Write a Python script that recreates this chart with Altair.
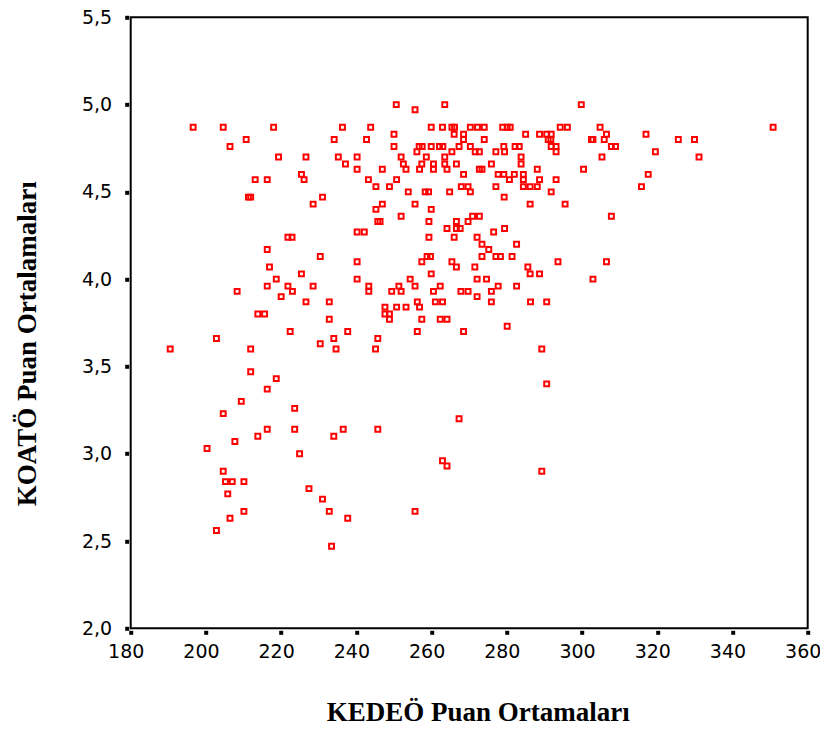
import altair as alt
import pandas as pd

# KOATÖ level (y) for each row of points, and the KEDEÖ values (x) of the points in that row
koato_rows = [5.00, 4.97, 4.87, 4.83, 4.80, 4.76, 4.73, 4.70, 4.66, 4.63, 4.60, 4.57,
              4.53, 4.50, 4.47, 4.43, 4.40, 4.36, 4.33, 4.29, 4.27, 4.24, 4.20, 4.17,
              4.13, 4.10, 4.07, 4.03, 4.00, 3.96, 3.93, 3.90, 3.87, 3.84, 3.80, 3.77,
              3.73, 3.70, 3.66, 3.63, 3.60, 3.47, 3.43, 3.40, 3.37, 3.30, 3.26, 3.23,
              3.20, 3.14, 3.10, 3.07, 3.03, 3.00, 2.96, 2.93, 2.90, 2.84, 2.80, 2.77,
              2.74, 2.67, 2.63, 2.56, 2.47]

kedeo_rows = [
    [250.6, 263.5, 299.8],
    [255.6],
    [196.6, 204.6, 218.0, 236.3, 243.8, 259.9, 262.9, 265.4, 266.1, 270.3, 272.2, 274.0,
     278.9, 280.1, 280.9, 294.2, 296.1, 304.8, 350.8],
    [250.0, 266.0, 268.5, 285.0, 288.7, 290.6, 291.8, 306.5, 317.0],
    [210.7, 234.1, 242.7, 268.5, 274.0, 291.0, 291.7, 302.5, 302.9, 305.9, 325.6, 329.9],
    [206.4, 250.0, 256.7, 257.5, 259.9, 262.1, 263.0, 267.3, 270.3, 279.2, 282.2, 283.3,
     291.8, 293.1, 307.8, 308.9],
    [256.1, 265.4, 271.6, 272.7, 277.1, 279.4, 293.1, 319.5],
    [219.3, 226.6, 235.2, 240.2, 251.9, 258.6, 263.5, 283.8, 305.3, 331.1],
    [237.1, 252.5, 257.4, 260.5, 263.5, 266.6, 275.9, 283.8],
    [240.2, 246.9, 253.2, 256.8, 260.5, 264.1, 272.7, 273.4, 288.1, 300.4],
    [225.4, 268.5, 277.7, 279.2, 282.0, 284.4, 317.6],
    [213.1, 216.3, 226.1, 243.2, 250.7, 280.7, 284.4, 288.7, 293.1],
    [245.2, 248.8, 267.9, 269.7, 277.1, 284.4, 286.2, 288.1, 315.8],
    [253.8, 258.3, 259.2, 264.8, 270.3, 291.8],
    [211.3, 211.9, 231.0, 279.3],
    [228.5, 246.9, 255.6, 286.2, 295.5],
    [245.2, 259.9],
    [251.9, 270.9, 272.7, 307.8],
    [245.7, 246.3, 259.3, 266.6, 269.7],
    [264.1, 266.6, 267.6, 279.4],
    [240.2, 242.1, 276.5],
    [221.8, 222.9, 259.3, 266.0, 272.1],
    [273.4, 282.6],
    [216.3, 275.2],
    [230.4, 258.8, 259.7, 273.4, 277.1, 278.3, 281.4],
    [240.2, 257.4, 265.4, 293.6, 306.5],
    [216.9, 266.6, 271.5, 285.6],
    [225.4, 259.9, 286.2, 288.7],
    [218.7, 240.2, 254.3, 272.1, 274.6, 302.9],
    [216.3, 221.8, 228.5, 243.3, 251.3, 255.6, 262.3, 277.7, 282.6],
    [208.3, 223.0, 243.3, 249.4, 251.9, 260.5, 267.8, 269.7, 275.9],
    [220.0, 272.1],
    [226.6, 232.8, 256.2, 261.0, 262.9, 275.9, 286.3, 290.6],
    [247.6, 250.7, 253.2, 256.8],
    [213.8, 215.6, 247.6, 248.8],
    [232.8, 248.8, 257.4, 262.3, 264.1],
    [280.1],
    [222.4, 237.7, 256.2, 268.5],
    [202.8, 234.0, 245.7],
    [230.4],
    [190.5, 211.9, 234.6, 245.1, 289.3],
    [211.9],
    [218.7],
    [290.6],
    [216.3],
    [209.4],
    [223.6],
    [204.6],
    [267.3],
    [216.3, 223.6, 236.5, 245.7],
    [213.8, 234.0],
    [207.7],
    [200.3],
    [224.9],
    [262.9],
    [264.1],
    [204.6, 289.3],
    [205.2, 207.0, 210.1],
    [227.4],
    [205.8],
    [231.0],
    [210.1, 232.8, 255.6],
    [206.4, 237.7],
    [202.8],
    [233.4],
]

x_ticks = [180, 200, 220, 240, 260, 280, 300, 320, 340, 360]
y_ticks = [2.0, 2.5, 3.0, 3.5, 4.0, 4.5, 5.0, 5.5]

records = []
for yv, xs in zip(koato_rows, kedeo_rows):
    for xv in xs:
        records.append({"KEDEO": xv, "KOATO": yv})
df = pd.DataFrame(records)

label_font = "DejaVu Sans"
title_font = "Liberation Serif"

chart = alt.Chart(df).mark_square(
    filled=False, size=24, strokeWidth=2, color="#ff0000", opacity=1
).encode(
    x=alt.X(
        "KEDEO:Q",
        scale=alt.Scale(domain=[180, 360], nice=False, zero=False),
        axis=alt.Axis(
            values=x_ticks,
            format="d",
            domain=False,
            grid=False,
            offset=2,
            tickSize=4,
            tickWidth=4,
            tickColor="black",
            labelFont=label_font,
            labelFontSize=19,
            labelColor="black",
            labelPadding=8,
            labelOffset=-5,
            labelFlush=False,
            labelOverlap=False,
            title="KEDEÖ Puan Ortamaları",
            titleFont=title_font,
            titleFontSize=27,
            titleFontWeight="bold",
            titleColor="black",
            titleX=347,
            titleY=82,
            titleAlign="center",
            titleBaseline="middle",
        ),
    ),
    y=alt.Y(
        "KOATO:Q",
        scale=alt.Scale(domain=[2.0, 5.5], nice=False, zero=False),
        axis=alt.Axis(
            values=y_ticks,
            labelExpr="replace(format(datum.value, '.1f'), '.', ',')",
            domain=False,
            grid=False,
            offset=2,
            tickSize=4,
            tickWidth=4,
            tickColor="black",
            labelFont=label_font,
            labelFontSize=19,
            labelColor="black",
            labelPadding=13,
            labelFlush=False,
            labelOverlap=False,
            title="KOATÖ  Puan Ortalamaları",
            titleFont=title_font,
            titleFontSize=27,
            titleFontWeight="bold",
            titleColor="black",
            titleAngle=270,
            titleX=-101,
            titleY=326,
            titleAlign="center",
            titleBaseline="middle",
        ),
    ),
).properties(
    width=677,
    height=611,
    padding={"left": 122.7, "top": 9.3, "right": 12.3, "bottom": 94.7},
    autosize=alt.AutoSizeParams(type="none"),
    background="white",
).configure_view(
    stroke="black", strokeWidth=2
)

chart.save("out.html", embed_options={"renderer": "svg", "actions": False})
